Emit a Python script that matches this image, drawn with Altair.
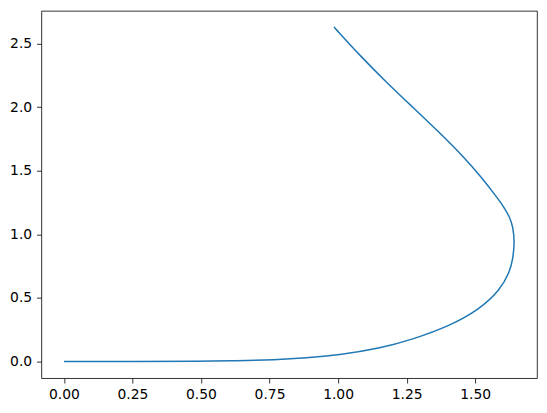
import altair as alt
import pandas as pd

# points, in drawing order
xs = [0.000, 0.250, 0.500, 0.625, 0.770, 0.884, 1.000, 1.152, 1.273,
      1.407, 1.516, 1.591, 1.625, 1.637, 1.644, 1.638, 1.625, 1.603, 1.576,
      1.522, 1.462, 1.370, 1.272, 1.174, 1.082, 0.985]
ys = [0.000, 0.000, 0.002, 0.005, 0.013, 0.027, 0.049, 0.102, 0.174,
      0.279, 0.410, 0.562, 0.700, 0.800, 0.933, 1.060, 1.140, 1.220, 1.300,
      1.450, 1.600, 1.800, 2.000, 2.200, 2.400, 2.630]
order = list(range(len(xs)))

x_ticks = [0.0, 0.25, 0.5, 0.75, 1.0, 1.25, 1.5]
y_ticks = [0.0, 0.5, 1.0, 1.5, 2.0, 2.5]

df = pd.DataFrame({"x": xs, "y": ys, "t": order})

chart = alt.Chart(df).mark_line(
    color="#1f77b4", strokeWidth=1.5, interpolate="basis", clip=True
).encode(
    x=alt.X("x:Q", scale=alt.Scale(domain=[-0.0822, 1.7255], nice=False, zero=False),
            axis=alt.Axis(values=x_ticks, format=".2f", title=None, grid=False)),
    y=alt.Y("y:Q", scale=alt.Scale(domain=[-0.1315, 2.757], nice=False, zero=False),
            axis=alt.Axis(values=y_ticks, format=".1f", title=None, grid=False)),
    order="t:Q",
).properties(
    width=496, height=367.6,
    background="white",
    autosize=alt.AutoSizeParams(type="none"),
    padding={"left": 33.4, "top": 2.7, "right": 2, "bottom": 30},
).configure_view(
    stroke="black", strokeWidth=0.8
).configure_axis(
    domain=False, ticks=True, tickColor="black", tickWidth=0.8, tickSize=4.86,
    labelPadding=4.86, labelFont="DejaVu Sans", labelFontSize=13.9,
    labelColor="black", labelFlush=False, labelOverlap=False
)

chart.save("out.html", embed_options={"renderer": "svg", "actions": False})
